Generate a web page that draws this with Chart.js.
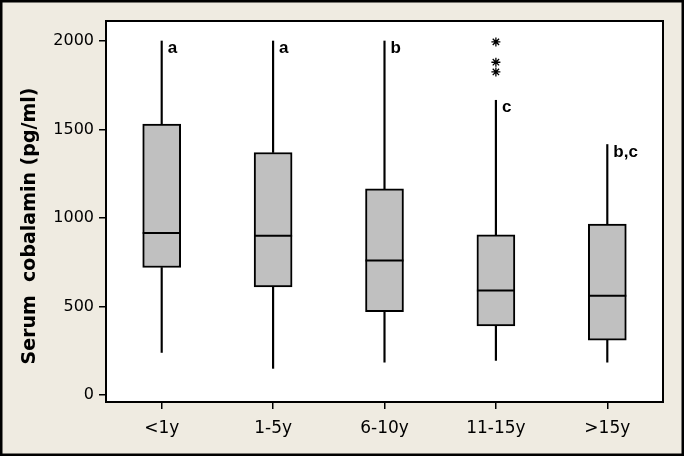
<!DOCTYPE html>
<html>
<head>
<meta charset="utf-8">
<script src="https://cdn.jsdelivr.net/npm/chart.js@4.4.0/dist/chart.umd.min.js"></script>
<style>
  html, body { margin: 0; padding: 0; background: #efebe1; }
  canvas { display: block; }
</style>
</head>
<body>
<canvas id="boxChart" width="684" height="456"></canvas>
<script>
// Age groups and box plot values (pg/ml)
const categories = ["<1y", "1-5y", "6-10y", "11-15y", ">15y"];
const whiskerLow = [240, 150, 185, 195, 185];
const q1 = [720, 610, 470, 390, 310];
const medians = [915, 900, 760, 590, 560];
const q3 = [1530, 1370, 1165, 905, 965];
const whiskerHigh = [2000, 2000, 2000, 1665, 1415];
const outliers = [
    { x: "11-15y", y: 1995 },
    { x: "11-15y", y: 1880 },
    { x: "11-15y", y: 1825 }
];
const groupLetters = ["a", "a", "b", "c", "b,c"];
const yTicks = [0, 500, 1000, 1500, 2000];

// background, frame, y title and the group letters
const decorations = {
    id: "decorations",
    beforeDraw(chart) {
        const ctx = chart.ctx;
        ctx.save();
        ctx.fillStyle = "#efebe1";
        ctx.fillRect(0, 0, chart.width, chart.height);
        const a = chart.chartArea;
        ctx.fillStyle = "#ffffff";
        ctx.fillRect(a.left, a.top, a.right - a.left, a.bottom - a.top);
        ctx.restore();
    },
    afterDraw(chart) {
        const ctx = chart.ctx;
        const a = chart.chartArea;
        const x = chart.scales.x, y = chart.scales.y;
        ctx.save();
        ctx.strokeStyle = "#000";
        ctx.lineWidth = 2;
        ctx.strokeRect(a.left, a.top, a.right - a.left, a.bottom - a.top);
        ctx.lineWidth = 3;
        ctx.strokeRect(1, 1, chart.width - 2, chart.height - 2);

        // letters next to the upper whiskers
        ctx.fillStyle = "#000";
        ctx.font = "bold 17px 'Liberation Sans', Arial, sans-serif";
        ctx.textAlign = "left";
        ctx.textBaseline = "alphabetic";
        groupLetters.forEach((t, i) => {
            ctx.fillText(t, x.getPixelForValue(i) + 6, y.getPixelForValue(whiskerHigh[i]) + 12);
        });

        // y axis title
        ctx.translate(30, 226);
        ctx.rotate(-Math.PI / 2);
        ctx.textAlign = "center";
        ctx.textBaseline = "middle";
        ctx.font = "bold 19px 'DejaVu Sans', Verdana, sans-serif";
        ctx.fillText("Serum  cobalamin (pg/ml)", 0, 0);
        ctx.restore();
    }
};

new Chart(document.getElementById("boxChart"), {
    data: {
        labels: categories,
        datasets: [
            {
                type: "line",
                order: 0,
                data: medians,
                showLine: false,
                pointStyle: "line",
                pointRadius: 19,
                pointBorderColor: "#000",
                pointBorderWidth: 2
            },
            {
                type: "line",
                order: 0,
                data: outliers,
                showLine: false,
                pointStyle: "star",
                pointRadius: 4.5,
                pointBorderColor: "#000",
                pointBorderWidth: 1.3
            },
            {
                type: "bar",
                order: 1,
                data: categories.map((c, i) => [q1[i], q3[i]]),
                backgroundColor: "#c0c0c0",
                borderColor: "#000",
                borderWidth: 2,
                borderSkipped: false,
                barThickness: 38,
                grouped: false
            },
            {
                type: "bar",
                order: 2,
                data: categories.map((c, i) => [whiskerLow[i], q1[i]]),
                backgroundColor: "#000",
                borderWidth: 0,
                barThickness: 1.5,
                grouped: false
            },
            {
                type: "bar",
                order: 2,
                data: categories.map((c, i) => [q3[i], whiskerHigh[i]]),
                backgroundColor: "#000",
                borderWidth: 0,
                barThickness: 1.5,
                grouped: false
            }
        ]
    },
    options: {
        responsive: false,
        animation: false,
        layout: { padding: { left: 0, right: 18, top: 21, bottom: 0 } },
        plugins: {
            legend: { display: false },
            tooltip: { enabled: false }
        },
        scales: {
            x: {
                type: "category",
                offset: true,
                grid: { display: true, offset: false, drawOnChartArea: false, drawTicks: true, tickLength: 7, color: "#000", lineWidth: 1.5 },
                border: { display: false },
                ticks: {
                    color: "#000",
                    padding: 9,
                    font: { family: "'DejaVu Sans', Verdana, sans-serif", size: 17 }
                },
                afterFit(scale) { scale.height = 54; }
            },
            y: {
                min: -40,
                max: 2113,
                afterBuildTicks(scale) { scale.ticks = yTicks.map(v => ({ value: v })); },
                grid: { display: true, drawOnChartArea: false, drawTicks: true, tickLength: 7, color: "#000", lineWidth: 1.5 },
                border: { display: false },
                ticks: {
                    color: "#000",
                    padding: 5,
                    callback: v => String(v),
                    font: { family: "'DejaVu Sans', Verdana, sans-serif", size: 16 }
                },
                afterFit(scale) { scale.width = 106; }
            }
        }
    },
    plugins: [decorations]
});
</script>
</body>
</html>
